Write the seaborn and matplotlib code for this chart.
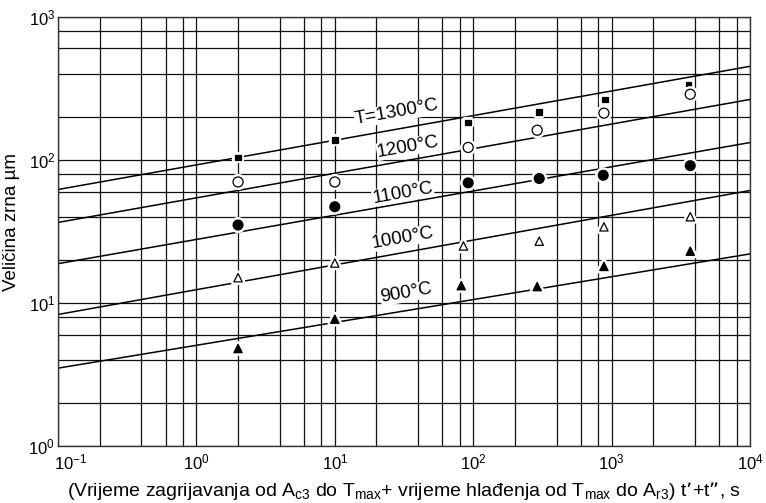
import numpy as np
import pandas as pd
import matplotlib
matplotlib.use("Agg")
import matplotlib.pyplot as plt
import matplotlib.patheffects as pe
from matplotlib.ticker import LogLocator, NullFormatter
from matplotlib.transforms import ScaledTranslation
import seaborn as sns

# straight lines on log-log, values read at t = 0.1 s and t = 10^4 s
line_names = ["T=1300°C", "1200°C", "1100°C", "1000°C", "900°C"]
line_t = [0.1, 1e4]
line_1300 = [62, 450]
line_1200 = [36.5, 264]
line_1100 = [18.8, 132]
line_1000 = [8.3, 61]
line_900 = [3.5, 22]

# measured grain size (µm)
t_sq = [2, 10, 92, 300, 900, 3600]
d_sq = [104, 137, 182, 215, 264, 337]
t_oc = [2, 10, 92, 290, 880, 3700]
d_oc = [70, 70, 122, 161, 212, 287]
t_fc = [2, 10, 92, 300, 870, 3700]
d_fc = [35, 47, 69, 74, 78, 91]
t_ot = [2, 10, 85, 300, 880, 3700]
d_ot = [15, 19, 25, 27, 34, 40]
t_ft = [2, 10, 82, 290, 880, 3700]
d_ft = [4.8, 7.7, 13.2, 13, 18, 23]

sns.set_style("ticks")
plt.rcParams["font.family"] = ["Liberation Sans", "DejaVu Sans"]
plt.rcParams["mathtext.default"] = "regular"
plt.rcParams["axes.unicode_minus"] = False
plt.rcParams["text.color"] = "black"
plt.rcParams["axes.labelcolor"] = "black"
plt.rcParams["xtick.color"] = "black"
plt.rcParams["ytick.color"] = "black"

lines = pd.DataFrame({
    "t": line_t * 5,
    "d": line_1300 + line_1200 + line_1100 + line_1000 + line_900,
    "T": [n for n in line_names for _ in line_t],
})

fig = plt.figure(figsize=(7.66, 5.03), dpi=100)
ax = fig.add_axes([58 / 766, 1 - 446 / 503, (750 - 58) / 766, (446 - 16.7) / 503])
ax.set_xscale("log")
ax.set_yscale("log")

sns.lineplot(data=lines, x="t", y="d", hue="T", palette=["black"] * 5,
             legend=False, lw=1.1, ax=ax, zorder=2)

halo = [pe.withStroke(linewidth=4.5, foreground="white")]
series = [
    (t_sq, d_sq, "s", "black", 16),
    (t_oc, d_oc, "o", "white", 52),
    (t_fc, d_fc, "o", "black", 50),
    (t_ot, d_ot, "^", "white", 36),
    (t_ft, d_ft, "^", "black", 36),
]
for t, d, m, fc, s in series:
    sns.scatterplot(x=t, y=d, marker=m, color=fc, edgecolor="black", s=s,
                    linewidth=0.9, ax=ax, zorder=4, path_effects=halo)

# labels along the lines
label_pos = [(28, 214), (33.8, 123), (31, 58.6), (31, 28.4), (33, 11.7)]
for name, (x, y) in zip(line_names, label_pos):
    ax.text(x, y, name, fontsize=13.5, rotation=10, ha="center", va="center",
            rotation_mode="anchor", zorder=5,
            bbox=dict(facecolor="white", edgecolor="none", pad=0.3))

ax.set_xlim(0.1, 1e4)
ax.set_ylim(1, 1000)
for axis in (ax.xaxis, ax.yaxis):
    axis.set_major_locator(LogLocator(base=10, numticks=10))
    axis.set_minor_locator(LogLocator(base=10, subs=[2, 4, 6, 8], numticks=10))
    axis.set_minor_formatter(NullFormatter())
ax.grid(which="both", color="#111111", lw=0.9)
ax.set_axisbelow(True)
ax.tick_params(which="both", length=0, labelsize=12)
ax.tick_params(axis="x", pad=5)
ax.tick_params(axis="y", pad=2)
for sp in ax.spines.values():
    sp.set_color("#333333")
    sp.set_linewidth(1)

ax.set_xlabel("(Vrijeme zagrijavanja od $A_{c3}$ do $T_{max}$+ vrijeme hlađenja od $T_{max}$ do $A_{r3}$) t’+t”, s",
              fontsize=14, labelpad=5)
ax.set_ylabel("Veličina zrna µm", fontsize=13.5)
ax.yaxis.set_label_coords(-0.055, 0.522)

# first x label sits to the right of the corner, as in the original
fig.canvas.draw()
for tick in ax.xaxis.get_major_ticks():
    if np.isclose(tick.get_loc(), 0.1):
        tick.label1.set_horizontalalignment("left")
        tick.label1.set_transform(tick.label1.get_transform()
                                  + ScaledTranslation(-0.04, 0, fig.dpi_scale_trans))

fig.savefig("out.png", dpi=100)
